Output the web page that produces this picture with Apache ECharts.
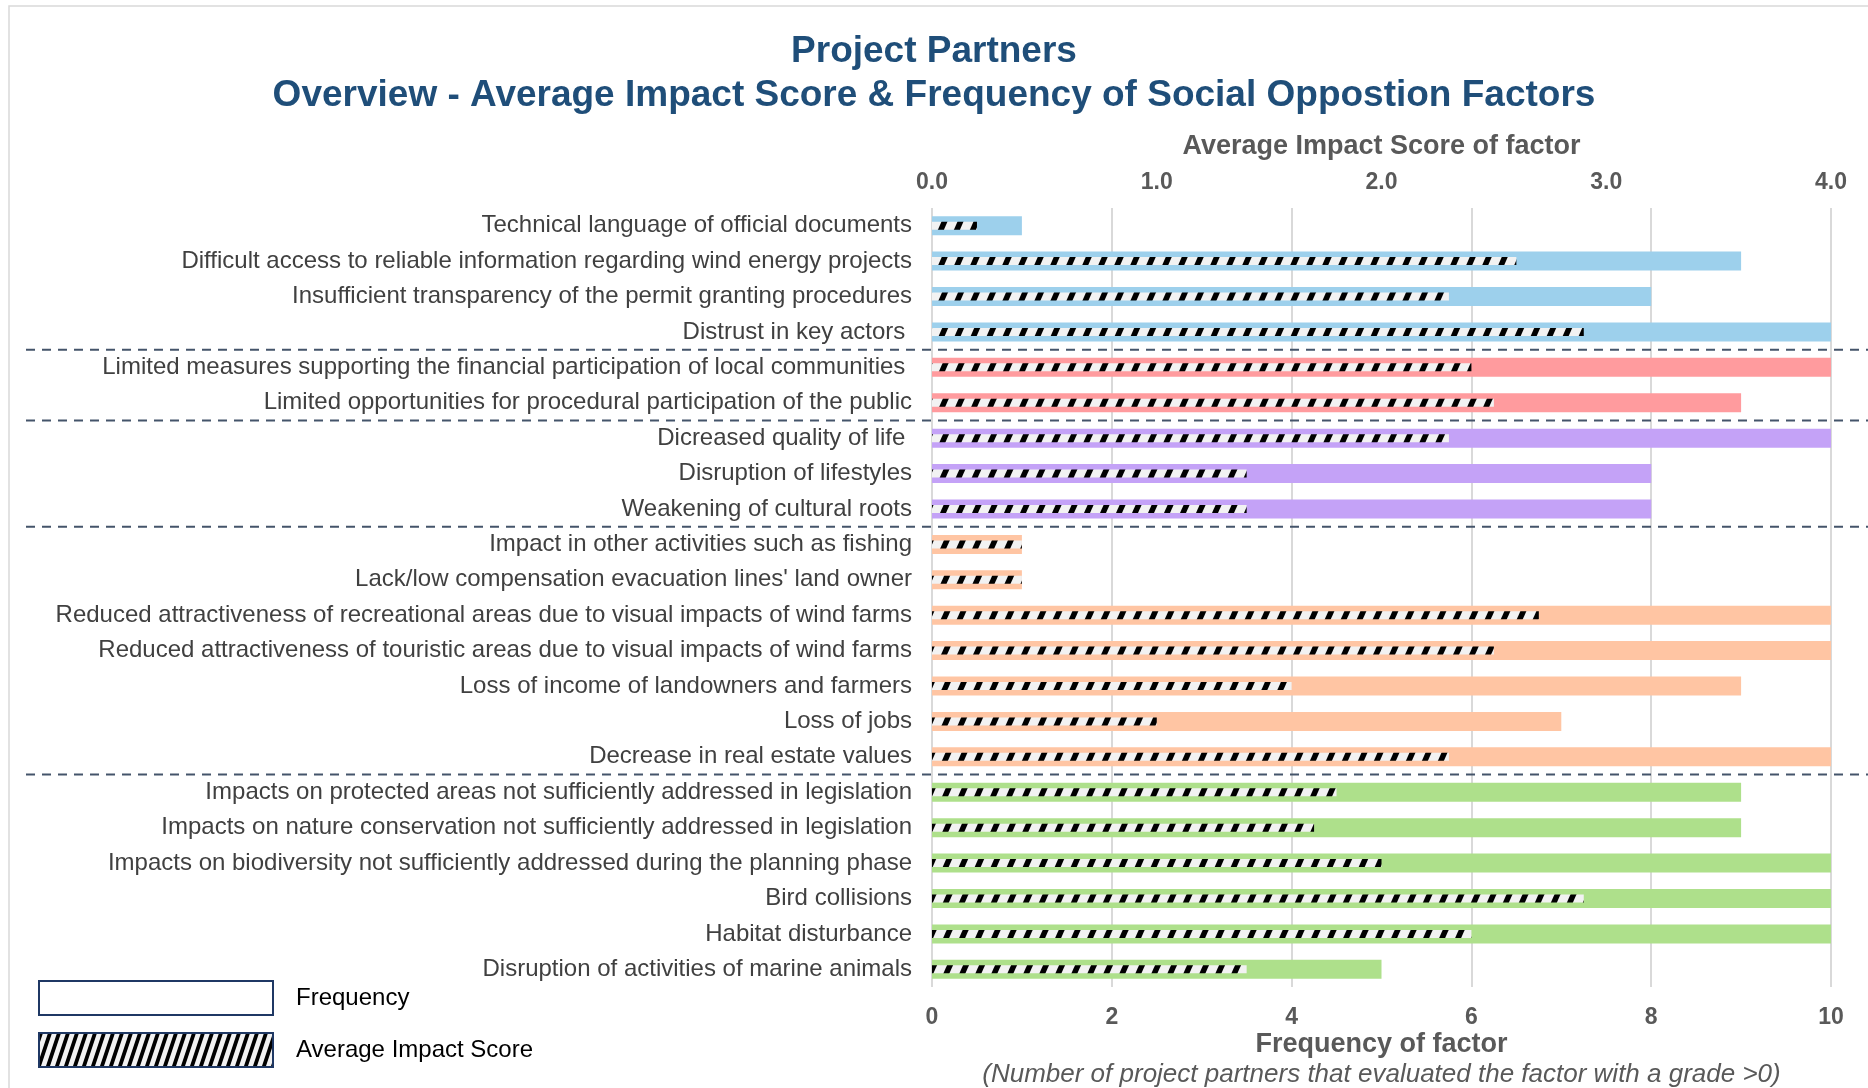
<!DOCTYPE html>
<html>
<head>
<meta charset="utf-8">
<script src="https://cdn.jsdelivr.net/npm/echarts@6/dist/echarts.min.js"></script>
<style>
  html, body { margin: 0; padding: 0; background: #fff; }
  #chart { width: 1868px; height: 1088px; }
</style>
</head>
<body>
<div id="chart"></div>
<script>
// factors, top to bottom
const categories = [
  'Technical language of official documents',
  'Difficult access to reliable information regarding wind energy projects',
  'Insufficient transparency of the permit granting procedures',
  'Distrust in key actors ',
  'Limited measures supporting the financial participation of local communities ',
  'Limited opportunities for procedural participation of the public',
  'Dicreased quality of life ',
  'Disruption of lifestyles',
  'Weakening of cultural roots',
  'Impact in other activities such as fishing',
  "Lack/low compensation evacuation lines' land owner",
  'Reduced attractiveness of recreational areas due to visual impacts of wind farms',
  'Reduced attractiveness of touristic areas due to visual impacts of wind farms',
  'Loss of income of landowners and farmers',
  'Loss of jobs',
  'Decrease in real estate values',
  'Impacts on protected areas not sufficiently addressed in legislation',
  'Impacts on nature conservation not sufficiently addressed in legislation',
  'Impacts on biodiversity not sufficiently addressed during the planning phase',
  'Bird collisions',
  'Habitat disturbance',
  'Disruption of activities of marine animals'
]
const frequency = [1, 9, 8, 10, 10, 9, 10, 8, 8, 1, 1, 10, 10, 9, 7, 10, 9, 9, 10, 10, 10, 5]
const avgScore = [0.2, 2.6, 2.3, 2.9, 2.4, 2.5, 2.3, 1.4, 1.4, 0.4, 0.4, 2.7, 2.5, 1.6, 1.0, 2.3, 1.8, 1.7, 2.0, 2.9, 2.4, 1.4]
// group of each factor (colour band)
const groupOf = [0, 0, 0, 0, 1, 1, 2, 2, 2, 3, 3, 3, 3, 3, 3, 3, 4, 4, 4, 4, 4, 4]
const groupColors = ['#9dd0ec', '#ff9b9e', '#c4a2f7', '#ffc5a3', '#aee08b']
const freqTicks = [0, 2, 4, 6, 8, 10]
const scoreTicks = [0, 1, 2, 3, 4]

// diagonal hatch, continuous so bars can sit anywhere
function hatch(w, h, stripe, bg) {
  const c = document.createElement('canvas')
  c.width = w
  c.height = h
  const ctx = c.getContext('2d')
  ctx.fillStyle = bg
  ctx.fillRect(0, 0, w, h)
  ctx.fillStyle = '#000'
  for (const dx of [-w, 0, w]) {
    ctx.beginPath()
    ctx.moveTo(dx, h)
    ctx.lineTo(dx + stripe, h)
    ctx.lineTo(dx + stripe + w, 0)
    ctx.lineTo(dx + w, 0)
    ctx.closePath()
    ctx.fill()
  }
  return { image: c, repeat: 'repeat' }
}
const barHatch = hatch(16, 36, 6, '#f2f2f2')
const legendHatch = hatch(9, 27, 4, '#f2f2f2')

const chart = echarts.init(document.getElementById('chart'))
const font = 'Liberation Sans, Arial, sans-serif'

const option = {
  animation: false,
  textStyle: { fontFamily: font },
  title: {
    text: 'Project Partners\nOverview - Average Impact Score & Frequency of Social Oppostion Factors',
    left: 'center',
    top: 25,
    textStyle: { color: '#1f4e79', fontSize: 37, fontWeight: 'bold', lineHeight: 44, fontFamily: font }
  },
  legend: {
    orient: 'vertical',
    left: 33,
    top: 975,
    itemWidth: 234,
    itemHeight: 34,
    itemGap: 16,
    selectedMode: false,
    textStyle: { color: '#000', fontSize: 24, padding: [0, 0, 0, 18], fontFamily: font },
    data: [
      { name: 'Frequency', icon: 'rect', itemStyle: { color: '#fff', borderColor: '#1f3864', borderWidth: 2 } },
      { name: 'Average Impact Score', icon: 'rect', itemStyle: { color: legendHatch, borderColor: '#1f3864', borderWidth: 2 } }
    ]
  },
  grid: { left: 932, right: 37, top: 208, bottom: 101, outerBoundsMode: 'none', containLabel: false },
  xAxis: [
    {
      type: 'value',
      position: 'bottom',
      min: 0,
      max: 10,
      interval: 2,
      axisLine: { show: false },
      axisTick: { show: false },
      splitLine: { show: true, lineStyle: { color: '#d9d9d9', width: 2 } },
      axisLabel: { color: '#595959', fontSize: 23, fontWeight: 'bold', margin: 19,
        formatter: (v) => freqTicks.includes(v) ? String(v) : '' },
      name: '{a|Frequency of factor}\n{b|(Number of project partners that evaluated the factor with a grade >0)}',
      nameLocation: 'middle',
      nameGap: 43,
      nameMoveOverlap: false,
      nameTextStyle: {
        rich: {
          a: { color: '#595959', fontSize: 27, fontWeight: 'bold', lineHeight: 30, fontFamily: font },
          b: { color: '#595959', fontSize: 26, fontStyle: 'italic', lineHeight: 30, fontFamily: font }
        }
      }
    },
    {
      type: 'value',
      position: 'top',
      min: 0,
      max: 4,
      interval: 1,
      axisLine: { show: false },
      axisTick: { show: false },
      splitLine: { show: false },
      axisLabel: { color: '#595959', fontSize: 23, fontWeight: 'bold', margin: 14,
        formatter: (v) => scoreTicks.includes(v) ? v.toFixed(1) : '' },
      name: 'Average Impact Score of factor',
      nameLocation: 'middle',
      nameGap: 48,
      nameTextStyle: { color: '#595959', fontSize: 27, fontWeight: 'bold', fontFamily: font }
    }
  ],
  yAxis: [
    {
      type: 'category',
      inverse: true,
      data: categories,
      axisLine: { show: false },
      axisTick: { show: false },
      axisLabel: { color: '#404040', fontSize: 24, margin: 20, fontFamily: font }
    },
    {
      type: 'category',
      inverse: true,
      data: categories,
      show: false
    }
  ],
  series: [
    {
      name: 'Frequency',
      type: 'bar',
      xAxisIndex: 0,
      yAxisIndex: 0,
      barWidth: 19,
      data: frequency,
      itemStyle: { color: (p) => groupColors[groupOf[p.dataIndex]] }
    },
    {
      name: 'Average Impact Score',
      type: 'bar',
      xAxisIndex: 1,
      yAxisIndex: 1,
      barWidth: 8,
      data: avgScore,
      itemStyle: { color: barHatch }
    }
  ]
}
chart.setOption(option)

// dashed separators between factor groups
const lines = []
for (let i = 0; i < groupOf.length - 1; i++) {
  if (groupOf[i] !== groupOf[i + 1]) {
    const y = (chart.convertToPixel({ yAxisIndex: 0 }, i) + chart.convertToPixel({ yAxisIndex: 0 }, i + 1)) / 2
    lines.push({
      type: 'line',
      shape: { x1: 26, y1: y, x2: 1868, y2: y },
      style: { stroke: '#44546a', lineWidth: 2, lineDash: [9, 7] },
      z: 10
    })
  }
}
lines.push({
  type: 'rect',
  shape: { x: 9, y: 6, width: 1870, height: 1090 },
  style: { fill: 'none', stroke: '#d9d9d9', lineWidth: 1.5 },
  silent: true
})
chart.setOption({ graphic: lines })
</script>
</body>
</html>
